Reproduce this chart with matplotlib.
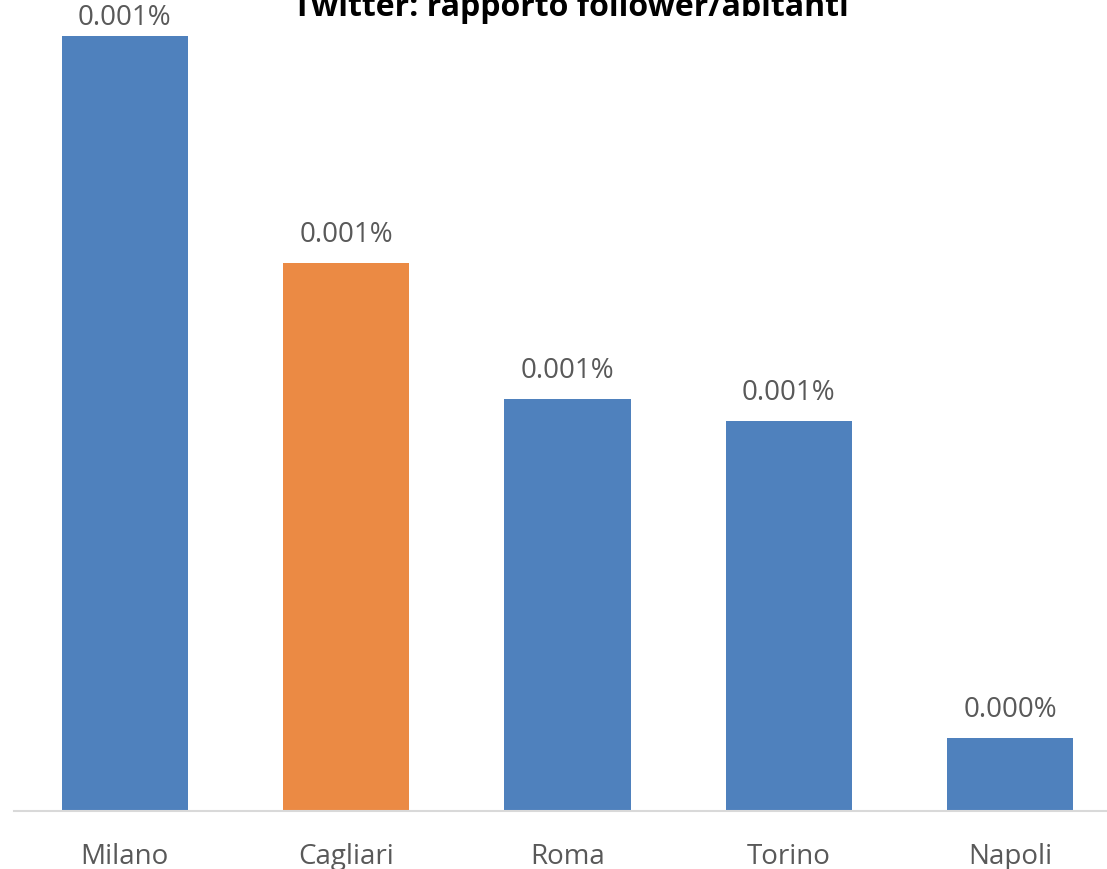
import matplotlib
matplotlib.use("Agg")
import matplotlib.pyplot as plt

# Twitter followers / inhabitants (percent)
cities = ["Milano", "Cagliari", "Roma", "Torino", "Napoli"]
ratio_pct = [0.00106, 0.00075, 0.000564, 0.000533, 0.0001]
labels = ["0.001%", "0.001%", "0.001%", "0.001%", "0.000%"]
colors = ["#4F81BD", "#EB8A44", "#4F81BD", "#4F81BD", "#4F81BD"]

plt.rcParams['font.family'] = ['Open Sans', 'DejaVu Sans']
txt_color = "#595959"

W, H = 1107, 870
fig = plt.figure(figsize=(W / 100, H / 100), dpi=100)
ax = fig.add_axes([14 / W, 58 / H, 1.0, 812 / H])

bars = ax.bar(range(len(cities)), ratio_pct, width=0.57, color=colors)
ax.set_xlim(-0.5, len(cities) - 0.5)
ax.set_ylim(0, ratio_pct[0] * 812 / 775)

# labels sit ~29px above the bar, but are kept inside the figure like Excel does
for b, lab in zip(bars, labels):
    top_px = ax.transData.transform((0, b.get_height()))[1]
    off_px = min(29, (H - 18) - top_px)
    ax.annotate(lab, (b.get_x() + b.get_width() / 2, b.get_height()),
                xytext=(0, off_px * 72 / 100), textcoords="offset points",
                ha="center", va="center", fontsize=20, color=txt_color)

ax.set_xticks(range(len(cities)))
ax.set_xticklabels(cities, fontsize=20, color=txt_color)
ax.tick_params(axis="x", length=0, pad=22)
ax.set_yticks([])
for s in ["top", "left", "right"]:
    ax.spines[s].set_visible(False)
ax.spines["bottom"].set_color("#D9D9D9")
ax.spines["bottom"].set_linewidth(1.5)

fig.text(571 / W, 1 - 16 / H, "Twitter: rapporto follower/abitanti",
         ha="center", va="baseline", fontsize=23, fontweight="bold", color="black")

fig.savefig("out.png", dpi=100)
